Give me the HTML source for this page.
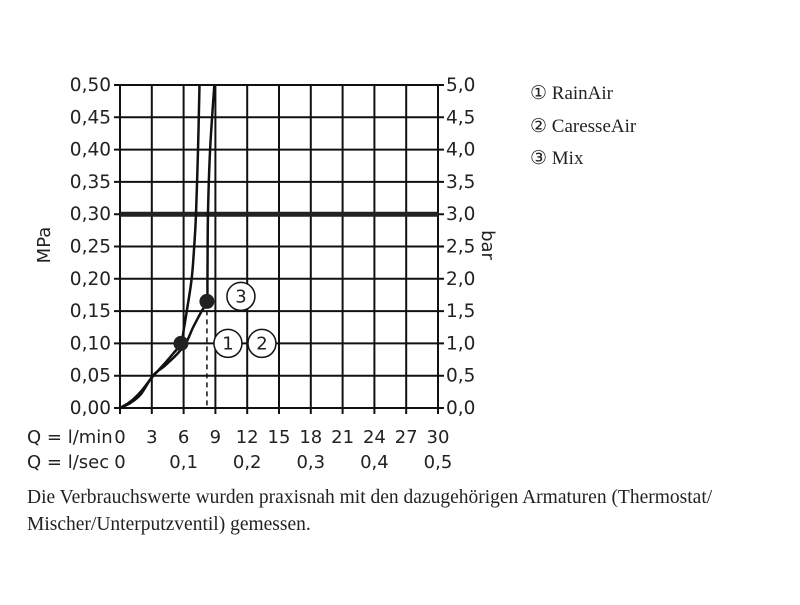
<!DOCTYPE html>
<html><head><meta charset="utf-8"><style>
body{margin:0;background:#fff;width:800px;height:600px;overflow:hidden}
svg text{font-family:"DejaVu Sans","Liberation Sans",sans-serif;fill:#222}
</style></head><body>
<svg width="800" height="600">
<g id="grid"></g>
<g id="ticks"></g>
<g id="curves"></g>
<text x="50" y="245" font-size="18" text-anchor="middle" transform="rotate(-90 50 245)">MPa</text>
<text x="482" y="245" font-size="18" text-anchor="middle" transform="rotate(90 482 245)">bar</text>
<text x="27" y="443" font-size="18">Q = l/min</text>
<text x="27" y="468" font-size="18">Q = l/sec</text>
<g>
<text x="530" y="99" font-size="19" style="font-family:'Liberation Serif','DejaVu Sans',serif">① RainAir</text>
<text x="530" y="132" font-size="19" style="font-family:'Liberation Serif','DejaVu Sans',serif">② CaresseAir</text>
<text x="530" y="164" font-size="19" style="font-family:'Liberation Serif','DejaVu Sans',serif">③ Mix</text>
</g>
<text x="27" y="503" font-size="19.5" style="font-family:'Liberation Serif',serif">Die Verbrauchswerte wurden praxisnah mit den dazugehörigen Armaturen (Thermostat/</text>
<text x="27" y="530" font-size="19.5" style="font-family:'Liberation Serif',serif">Mischer/Unterputzventil) gemessen.</text>
</svg>
<script>
const qTicks=[0,3,6,9,12,15,18,21,24,27,30];
const secTicks=["0","0,1","0,2","0,3","0,4","0,5"];
const pTicks=[0,0.05,0.1,0.15,0.2,0.25,0.3,0.35,0.4,0.45,0.5];
const curve12Q=[0,1,2,3,4,5,5.75,6.05,6.3,6.76,7.0,7.17,7.36,7.5];
const curve12P=[0,0.01,0.026,0.047,0.065,0.084,0.10,0.125,0.15,0.2,0.25,0.3,0.4,0.5];
const curve3Q=[0,1,2,3.1,4.2,5.3,6.2,6.9,7.7,8.2,8.25,8.3,8.5,8.9];
const curve3P=[0,0.008,0.022,0.05,0.065,0.082,0.10,0.125,0.15,0.165,0.2,0.3,0.4,0.5];
const dotsQ=[5.75,8.2];
const dotsP=[0.10,0.165];
const refP=0.30;
const X=q=>120+q*(318/30), Y=p=>408-p*(323/0.5);
const NS="http://www.w3.org/2000/svg";
function mk(parent,tag,attrs){const e=document.createElementNS(NS,tag);for(const k in attrs)e.setAttribute(k,attrs[k]);parent.appendChild(e);return e;}
const grid=document.getElementById('grid'),ticks=document.getElementById('ticks'),cv=document.getElementById('curves');
qTicks.forEach(q=>{
 const l=mk(grid,'line',{x1:X(q),x2:X(q),y1:Y(0.5),y2:Y(0)+6,stroke:'#111','stroke-width':2});
 
 
 const t=mk(ticks,'text',{x:X(q),y:443,'font-size':18,'text-anchor':'middle'});t.textContent=q;
 
 
});
secTicks.forEach((s,i)=>{
 const t=mk(ticks,'text',{x:X(i*6),y:468,'font-size':18,'text-anchor':'middle'});t.textContent=s;
 
 
});
pTicks.forEach(p=>{
 const l=mk(grid,'line',{x1:X(0)-6,x2:X(30)+6,y1:Y(p),y2:Y(p),stroke:'#111','stroke-width':2});
 
 
 const t=mk(ticks,'text',{x:111,y:Y(p)+6,'font-size':18.5,'text-anchor':'end'});t.textContent=p.toFixed(2).replace('.',',');
 
 
 const t2=mk(ticks,'text',{x:446,y:Y(p)+6,'font-size':18.5});t2.textContent=(p*10).toFixed(1).replace('.',',');
 
 
});
const ref=mk(cv,'line',{x1:X(0),x2:X(30),y1:Y(refP),y2:Y(refP),stroke:'#222','stroke-width':5});


function path(qs,ps){const pts=qs.map((q,i)=>[X(q),Y(ps[i])]);
 let d='M'+pts[0];for(let i=0;i<pts.length-1;i++){const p0=pts[i-1]||pts[i],p1=pts[i],p2=pts[i+1],p3=pts[i+2]||p2;
 d+=` C${p1[0]+(p2[0]-p0[0])/6},${p1[1]+(p2[1]-p0[1])/6} ${p2[0]-(p3[0]-p1[0])/6},${p2[1]-(p3[1]-p1[1])/6} ${p2[0]},${p2[1]}`;}return d;}
const c1=mk(cv,'path',{d:path(curve12Q,curve12P),fill:'none',stroke:'#111','stroke-width':2.5});


const c3=mk(cv,'path',{d:path(curve3Q,curve3P),fill:'none',stroke:'#111','stroke-width':2.5});


const dl=mk(cv,'line',{x1:X(dotsQ[1]),x2:X(dotsQ[1]),y1:Y(dotsP[1]),y2:Y(0),stroke:'#111','stroke-width':1.5,'stroke-dasharray':'5,4'});


dotsQ.forEach((q,i)=>{const c=mk(cv,'circle',{cx:X(q),cy:Y(dotsP[i]),r:7.5,fill:'#222'});
 
 });
const labs=[["3",X(dotsQ[1])+34,Y(dotsP[1])-5],["1",X(dotsQ[0])+47,Y(dotsP[0])],["2",X(dotsQ[0])+81,Y(dotsP[0])]];
labs.forEach(([s,x,y])=>{const g=mk(cv,'g',{});
 
 
 mk(g,'circle',{cx:x,cy:y,r:14,fill:'#fff',stroke:'#111','stroke-width':1.5});
 const t=mk(g,'text',{x:x,y:y+6,'font-size':18,'text-anchor':'middle'});t.textContent=s;});
</script>
</body></html>
